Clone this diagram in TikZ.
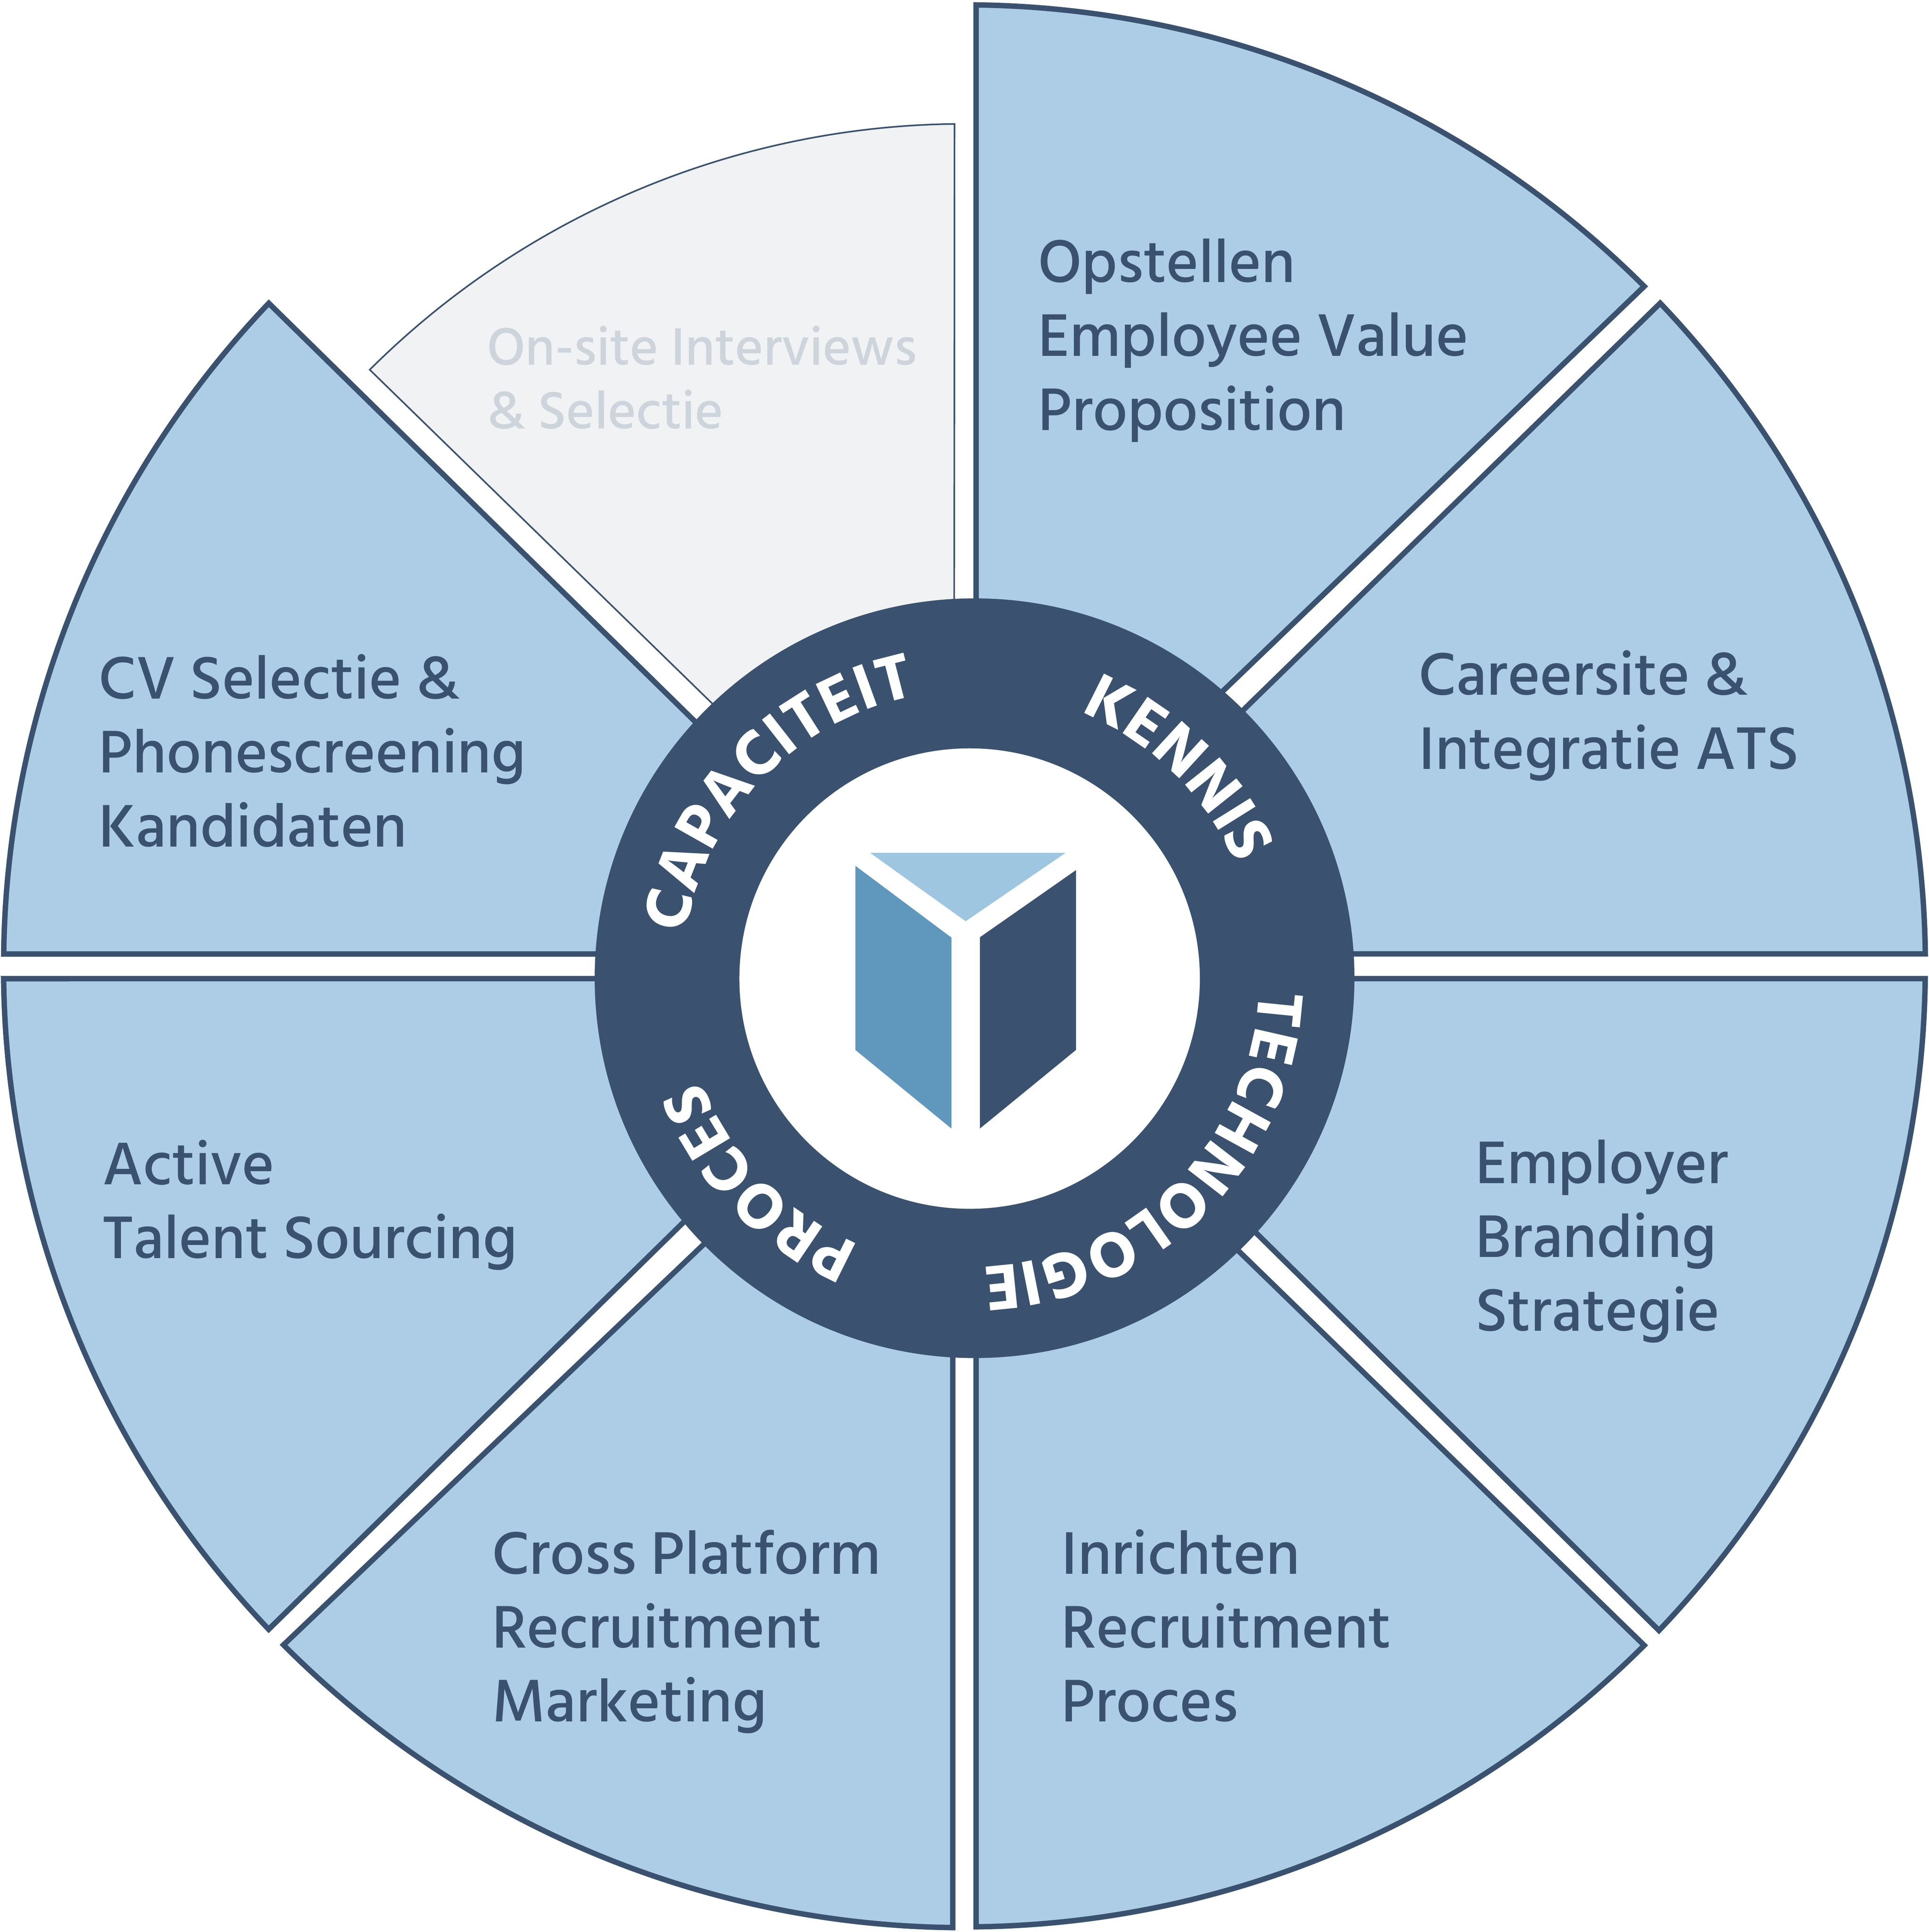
\documentclass[tikz,border=0pt]{standalone}
\usepackage{fontspec}
\usetikzlibrary{decorations.text}
\newfontfamily\wheelfont[UprightFont={* Medium}]{Hind Siliguri}
\newfontfamily\ringfont[UprightFont={* Bold}]{Hind Siliguri}
\definecolor{wheelblue}{HTML}{ADCCE5}
\definecolor{wheeldark}{HTML}{3A526F}
\definecolor{wheelgrey}{HTML}{F1F2F3}
\definecolor{wheelgreytext}{HTML}{CDD4DC}
\definecolor{logolight}{HTML}{9FC6E0}
\definecolor{logomid}{HTML}{6097BD}
\tikzset{
  piece/.style={draw=wheeldark, line width=4.4pt, fill=wheelblue, miter limit=20},
  greypiece/.style={draw=wheeldark, line width=1.3pt, fill=wheelgrey, miter limit=20},
  lab/.style={anchor=base west, align=left, text=wheeldark, inner sep=0pt, font=\wheelfont\fontsize{50}{60}\selectfont},
  greylab/.style={anchor=base west, align=left, text=wheelgreytext, inner sep=0pt, font=\wheelfont\fontsize{43.8}{52}\selectfont},
  ring/.style={decoration={text along path, text align=center, text={|\ringfont\fontsize{53}{53}\selectfont\color{white}|#1}}, decorate},
}
\begin{document}
\begin{tikzpicture}[x=1pt,y=-1pt]
\useasboundingbox (0,0) rectangle (1565,1567.6);
\draw[piece] (792,4) arc[start angle=-89.3, end angle=-45, radius=780] -- (792,753) -- cycle;
\draw[piece] (1347,246) arc[start angle=-43.6, end angle=-0.73, radius=780] -- (806,774) -- cycle;
\draw[piece] (1562,794) arc[start angle=0.73, end angle=43.7, radius=780] -- (810,794) -- cycle;
\draw[piece] (1334,1335) arc[start angle=45, end angle=89.3, radius=780] -- (792,808) -- cycle;
\draw[piece] (773,1564) arc[start angle=90.7, end angle=135.1, radius=780] -- (773,817) -- cycle;
\draw[piece] (218,1322) arc[start angle=136.4, end angle=179.27, radius=780] -- (756,794) -- cycle;
\draw[piece] (3,774) arc[start angle=180.73, end angle=223.6, radius=780] -- (756,774) -- cycle;
\draw[greypiece] (300,300) arc[start angle=225.1, end angle=269.3, radius=684] -- (774,762) -- cycle;
\node[circle, fill=wheeldark, minimum size=616.4pt, inner sep=0pt] (hub) at (790.7,793.7) {};
\node[circle, fill=white, minimum size=373.6pt, inner sep=0pt] (core) at (786.7,794) {};
\fill[logolight] (706,692) -- (864.5,692) -- (783.5,747.5) -- cycle;
\fill[logomid] (694,702.5) -- (772,760.8) -- (772,915.7) -- (694,851.9) -- cycle;
\fill[wheeldark] (873,706) -- (795,760.5) -- (795,915.7) -- (873,851.9) -- cycle;
\path[ring=CAPACITEIT] (787.7,794) ++(-176:234) arc[start angle=-176, end angle=-96, radius=234];
\path[ring=KENNIS] (787.7,794) ++(-85.5:234) arc[start angle=-85.5, end angle=-5.5, radius=234];
\path[ring=TECHNOLOGIE] (787.7,794) ++(-15:234) arc[start angle=-15, end angle=105, radius=234];
\path[ring=PROCES] (787.7,794) ++(96:234) arc[start angle=96, end angle=176, radius=234];
\node[lab] (evp) at (842,349) {Opstellen\\Employee Value\\Proposition};
\node[lab] (site) at (1151,624) {Careersite \&\\Integratie ATS};
\node[lab] (brand) at (1197,1080) {Employer\\Branding\\Strategie};
\node[lab] (proc) at (861,1397) {Inrichten\\Recruitment\\Proces};
\node[lab] (market) at (399,1397) {Cross Platform\\Recruitment\\Marketing};
\node[lab] (talent) at (83,1021) {Active\\Talent Sourcing};
\node[lab] (cv) at (80,687) {CV Selectie \&\\Phonescreening\\Kandidaten};
\node[greylab] (onsite) at (395,348) {On-site Interviews\\\& Selectie};
\end{tikzpicture}
\end{document}
